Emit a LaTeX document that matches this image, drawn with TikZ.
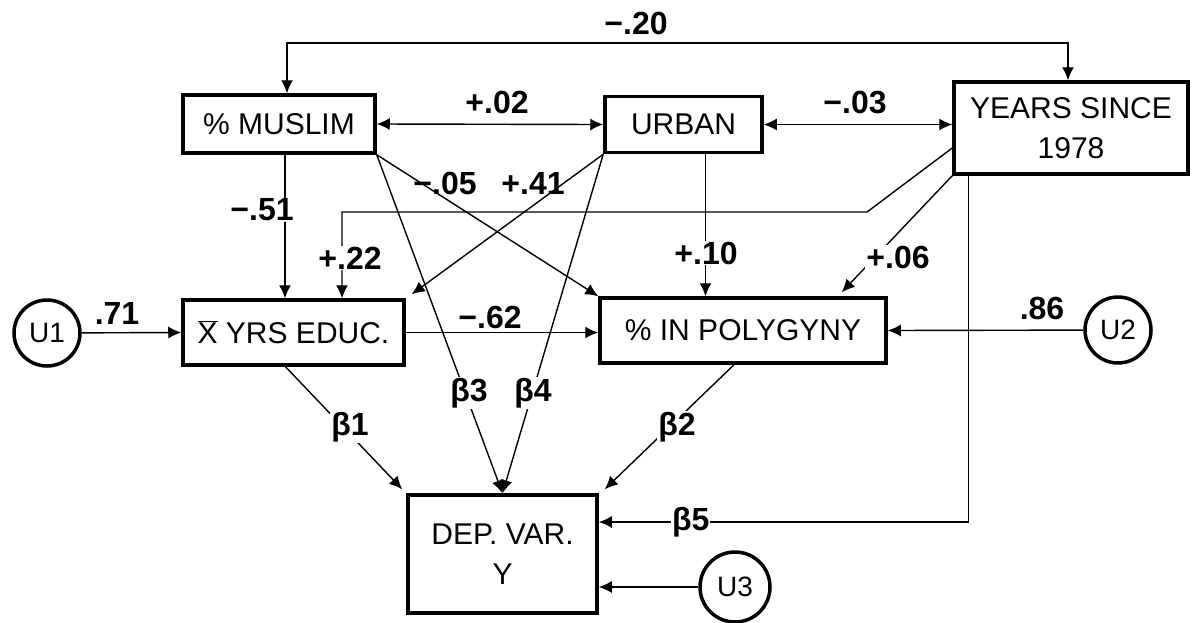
\documentclass[tikz,border=0pt]{standalone}
\usepackage{fontspec}
\setmainfont{Liberation Sans}
\usetikzlibrary{arrows.meta,calc}

\begin{document}
\begin{tikzpicture}[x=1pt,y=-1pt,>={Latex[length=13pt,width=12pt]},
  var/.style={draw,line width=3.5pt,inner sep=0pt,align=center,font=\fontsize{30}{40}\selectfont},
  err/.style={draw,circle,line width=3.5pt,inner sep=0pt,minimum size=66pt,font=\fontsize{28}{30}\selectfont},
  coef/.style={inner sep=1pt,font=\bfseries\fontsize{32}{34}\selectfont},
  onpath/.style={coef,fill=white},
  link/.style={line width=1.4pt}]
\useasboundingbox (0,0) rectangle (1193,622);

% variables
\node[var,minimum width=192pt,minimum height=58pt] (muslim) at (279,124) {\% MUSLIM};
\node[var,minimum width=157pt,minimum height=56pt] (urban) at (683.5,124.5) {URBAN};
\node[var,minimum width=234pt,minimum height=92pt] (years) at (1071,128) {YEARS SINCE\\1978};
\node[var,minimum width=221pt,minimum height=65pt] (educ) at (293.5,332.5) {$\overline{\mbox{X}}$ YRS EDUC.};
\node[var,minimum width=286pt,minimum height=65pt] (poly) at (743,330.5) {\% IN POLYGYNY};
\node[var,minimum width=189pt,minimum height=118pt] (dep) at (502.5,554) {DEP. VAR.\\Y};
\node[err] (u1) at (47,333) {U1};
\node[err] (u2) at (1118,330) {U2};
\node[err,minimum size=70pt] (u3) at (735,587) {U3};

% helper points
\coordinate (topL) at (287,43);
\coordinate (topR) at (1068,43);
\coordinate (k1) at (867,212);
\coordinate (k2) at (342,212);
\coordinate (m51) at ($(muslim.south)+(6,0)$);
\coordinate (u10) at ($(urban.south)+(22,0)$);
\coordinate (v5) at ($(years.south west)+(16,0)$);
\coordinate (k5) at ($(dep.east)+(0,-32)$);

% paths
\draw[link,<->] (muslim.north -| topL) -- (topL) -- (topR) -- (years.north -| topR);
\draw[link,<->] (muslim.east) -- (urban.west);
\draw[link,<->] (urban.east) -- (urban.east -| years.west);
\draw[link,->] (m51) -- (m51 |- educ.north);
\draw[link,->] ($(years.west)+(0,20)$) -- (k1) -- (k2) -- (k2 |- educ.north);
\draw[link,->] (muslim.south east) -- (poly.north west);
\draw[link,->] (urban.south west) -- ($(educ.north east)+(6,-4)$);
\draw[link,->] (muslim.south east) -- (dep.north);
\draw[link,->] (urban.south west) -- (dep.north);
\draw[link,->] (u10) -- (u10 |- poly.north);
\draw[link,->] (years.south west) -- ($(poly.north east)+(-46,-4)$);
\draw[link,->] (v5) |- (k5);
\draw[link,->] (u1) -- (educ.west);
\draw[link,->] (educ.east) -- (educ.east -| poly.west);
\draw[link,->] (u2) -- (poly.east);
\draw[link,->] (u3) -- (dep.east |- u3);
\draw[link,->] ($(educ.south)+(-8,0)$) -- ($(dep.north west)+(-4,-4)$);
\draw[link,->] ($(poly.south)+(-9,0)$) -- ($(dep.north east)+(6,-4)$);

% coefficients
\node[coef] (l20) at (636,23) {−.20};
\node[coef] (l02) at (497,102) {+.02};
\node[coef] (l03) at (855,103) {−.03};
\node[onpath] (l51) at (262,210) {−.51};
\node[coef] (l05) at (445,183) {−.05};
\node[coef] (l41) at (533,183) {+.41};
\node[onpath] (l22) at (350,258) {+.22};
\node[onpath] (l10) at (706,253) {+.10};
\node[onpath] (l06) at (898,257) {+.06};
\node[coef] (l71) at (117,313) {.71};
\node[coef] (l62) at (490,317) {−.62};
\node[coef] (l86) at (1042,308) {.86};
\node[onpath] (b1) at (350,427) {β1};
\node[onpath] (b2) at (677,427) {β2};
\node[onpath] (b3) at (469,393) {β3};
\node[onpath] (b4) at (533,393) {β4};
\node[onpath] (b5) at ($(k5)+(92,0)$) {β5};
\end{tikzpicture}
\end{document}
